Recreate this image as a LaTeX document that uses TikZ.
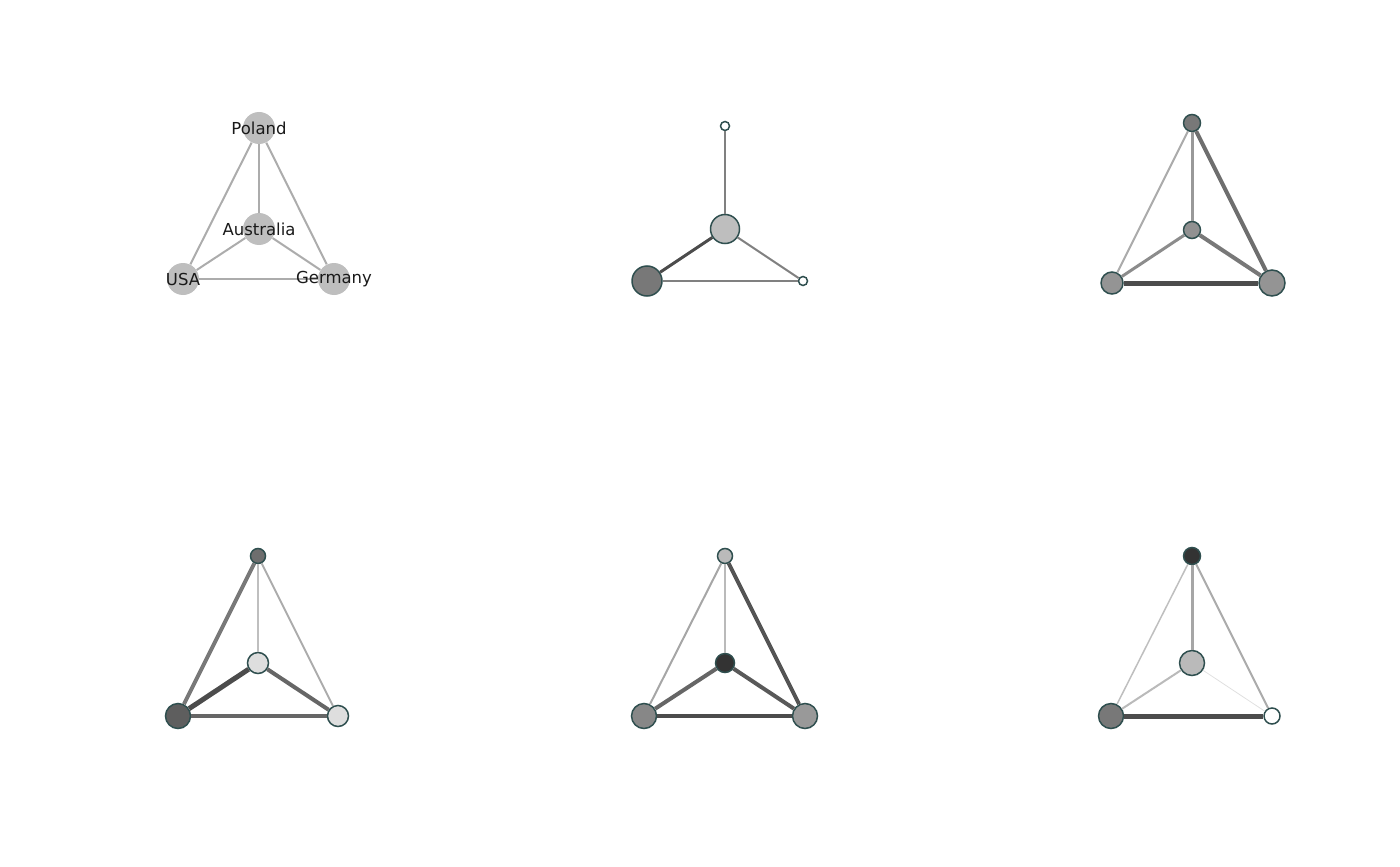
\documentclass[tikz,border=0pt]{standalone}
\usepackage{fontspec}
\setmainfont{DejaVu Sans}
\usepackage{tikz}

\definecolor{rim}{HTML}{2F4F4F}
\definecolor{plain}{HTML}{BEBEBE}

\begin{document}
\begin{tikzpicture}[x=0.5pt,y=-0.5pt]
\fontsize{8.25}{10}\selectfont
\tikzstyle{vx}=[draw=rim,line width=0.75pt,shape=circle,inner sep=0pt];
\tikzstyle{px}=[shape=circle,fill=plain,inner sep=0pt,minimum size=16pt];
\tikzstyle{lbl}=[text=black!90,inner sep=0pt];
\useasboundingbox (0,0) rectangle (1400,866);
% panel 1
\node[px] (p1) at (259,128) {};
\node[px] (p2) at (259,229) {};
\node[px] (p3) at (183,279) {};
\node[px] (p4) at (334,279) {};
\draw [-,gray!65,line width=1pt]  (p1) -- (p2);
\draw [-,gray!65,line width=1pt]  (p1) -- (p3);
\draw [-,gray!65,line width=1pt]  (p1) -- (p4);
\draw [-,gray!65,line width=1pt]  (p2) -- (p3);
\draw [-,gray!65,line width=1pt]  (p2) -- (p4);
\draw [-,gray!65,line width=1pt]  (p3) -- (p4);
\node[lbl] at (p1) {Poland};
\node[lbl] at (p2) {Australia};
\node[lbl] at (p3) {USA};
\node[lbl] at (p4) {Germany};
% panel 2
\node[vx,fill=white,minimum size=4.5pt] (a1) at (725,126) {};
\node[vx,fill=plain,minimum size=14.5pt] (a2) at (725,229) {};
\node[vx,fill=black!53,minimum size=15pt] (a3) at (647,281) {};
\node[vx,fill=white,minimum size=4.5pt] (a4) at (803,281) {};
\draw [-,black!50,line width=1pt]  (a1) -- (a2);
\draw [-,black!70,line width=1.5pt]  (a2) -- (a3);
\draw [-,black!50,line width=1pt]  (a2) -- (a4);
\draw [-,black!50,line width=1pt]  (a3) -- (a4);
% panel 3
\node[vx,fill=black!53,minimum size=8.5pt] (b1) at (1192,123) {};
\node[vx,fill=black!43,minimum size=8.5pt] (b2) at (1192,230) {};
\node[vx,fill=black!42,minimum size=11pt] (b3) at (1112,283) {};
\node[vx,fill=black!42,minimum size=13pt] (b4) at (1272,283) {};
\draw [-,black!40,line width=1.5pt]  (b1) -- (b2);
\draw [-,black!33,line width=1pt]  (b1) -- (b3);
\draw [-,black!57,line width=2pt]  (b1) -- (b4);
\draw [-,black!45,line width=1.5pt]  (b2) -- (b3);
\draw [-,black!53,line width=2pt]  (b2) -- (b4);
\draw [-,black!70,line width=2.5pt]  (b3) -- (b4);
% panel 4
\node[vx,fill=black!57,minimum size=7.5pt] (c1) at (258,556) {};
\node[vx,fill=black!13,minimum size=10.5pt] (c2) at (258,663) {};
\node[vx,fill=black!63,minimum size=12.5pt] (c3) at (178,716) {};
\node[vx,fill=black!13,minimum size=10.5pt] (c4) at (338,716) {};
\draw [-,black!25,line width=1pt]  (c1) -- (c2);
\draw [-,black!53,line width=2pt]  (c1) -- (c3);
\draw [-,black!33,line width=1pt]  (c1) -- (c4);
\draw [-,black!70,line width=2.5pt]  (c2) -- (c3);
\draw [-,black!60,line width=2pt]  (c2) -- (c4);
\draw [-,black!60,line width=2pt]  (c3) -- (c4);
% panel 5
\node[vx,fill=black!27,minimum size=7.5pt] (d1) at (725,556) {};
\node[vx,fill=black!80,minimum size=9.5pt] (d2) at (725,663) {};
\node[vx,fill=black!47,minimum size=12.5pt] (d3) at (644,716) {};
\node[vx,fill=black!40,minimum size=12.5pt] (d4) at (805,716) {};
\draw [-,black!27,line width=0.75pt]  (d1) -- (d2);
\draw [-,black!35,line width=1pt]  (d1) -- (d3);
\draw [-,black!67,line width=2pt]  (d1) -- (d4);
\draw [-,black!60,line width=2pt]  (d2) -- (d3);
\draw [-,black!65,line width=2pt]  (d2) -- (d4);
\draw [-,black!70,line width=2pt]  (d3) -- (d4);
% panel 6
\node[vx,fill=black!80,minimum size=8.5pt] (e1) at (1192,556) {};
\node[vx,fill=black!27,minimum size=12.5pt] (e2) at (1192,663) {};
\node[vx,fill=black!53,minimum size=12.5pt] (e3) at (1111,716) {};
\node[vx,fill=white,minimum size=8pt] (e4) at (1272,716) {};
\draw [-,black!35,line width=1.5pt]  (e1) -- (e2);
\draw [-,black!25,line width=0.75pt]  (e1) -- (e3);
\draw [-,black!33,line width=1pt]  (e1) -- (e4);
\draw [-,black!27,line width=1pt]  (e2) -- (e3);
\draw [-,black!12,line width=0.4pt]  (e2) -- (e4);
\draw [-,black!70,line width=2.5pt]  (e3) -- (e4);
\end{tikzpicture}
\end{document}
